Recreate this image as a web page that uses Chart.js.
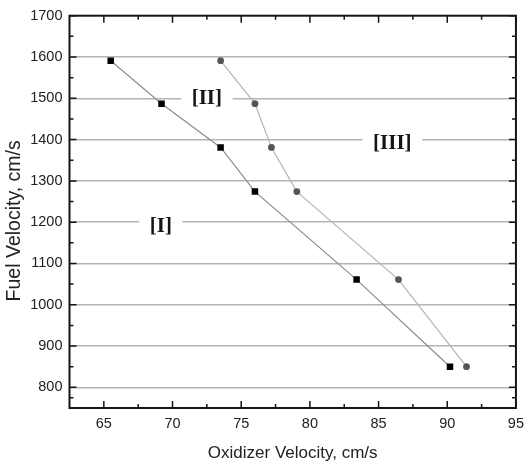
<!DOCTYPE html>
<html>
<head>
<meta charset="utf-8">
<script src="https://cdn.jsdelivr.net/npm/chart.js@4.4.1/dist/chart.umd.min.js"></script>
<style>
  html, body { margin: 0; padding: 0; background: #fff; }
  #wrap { width: 531px; height: 468px; }
</style>
</head>
<body>
<div id="wrap"><canvas id="velocityChart" width="531" height="468"></canvas></div>
<script>
// ===== data =====
const squareOxidizer = [65.5, 69.2, 73.5, 76.0, 83.4, 90.2];
const squareFuel = [1591, 1487, 1381, 1274, 1061, 850];
const circleOxidizer = [73.5, 76.0, 77.2, 79.05, 86.45, 91.4];
const circleFuel = [1591, 1487, 1381, 1274, 1061, 850];

const xTicks = [65, 70, 75, 80, 85, 90, 95];
const yTicks = [800, 900, 1000, 1100, 1200, 1300, 1400, 1500, 1600, 1700];

// region labels, anchored in data units
const regionLabels = ["[I]", "[II]", "[III]"];
const regionX = [69.15, 72.5, 86.0];
const regionY = [1190, 1500, 1390];

const yTitle = "Fuel Velocity, cm/s";

const SANS = "'Liberation Sans', Arial, sans-serif";
const SERIF = "'Liberation Serif', 'Times New Roman', serif";
const INK = "#151515";

const toPoints = (xs, ys) => xs.map((x, i) => ({ x, y: ys[i] }));

// midpoints between major ticks -> minor tick values
function minors(ticks) {
  const out = [];
  for (let i = 0; i < ticks.length - 1; i++) out.push((ticks[i] + ticks[i + 1]) / 2);
  return out;
}

// frame, inward ticks, region labels and the vertical axis title
const framePlugin = {
  id: "framePlugin",
  beforeDatasetsDraw(chart) {
    const { ctx, scales } = chart;
    ctx.save();
    ctx.font = "bold 21px " + SERIF;
    ctx.textAlign = "center";
    ctx.textBaseline = "middle";
    regionLabels.forEach((txt, i) => {
      const px = scales.x.getPixelForValue(regionX[i]);
      const py = scales.y.getPixelForValue(regionY[i]);
      const w = ctx.measureText(txt).width;
      ctx.fillStyle = "#fff";
      ctx.fillRect(px - w / 2 - 10.5, py - 12, w + 21, 24);
      ctx.fillStyle = INK;
      ctx.fillText(txt, px, py);
    });
    ctx.restore();
  },
  afterDatasetsDraw(chart) {
    const { ctx, chartArea: a, scales } = chart;
    const major = 7, minor = 4;
    ctx.save();
    ctx.strokeStyle = INK;
    ctx.lineWidth = 1.5;
    ctx.beginPath();
    const xt = (v, len) => {
      const p = scales.x.getPixelForValue(v);
      ctx.moveTo(p, a.bottom); ctx.lineTo(p, a.bottom - len);
      ctx.moveTo(p, a.top); ctx.lineTo(p, a.top + len);
    };
    const yt = (v, len) => {
      const p = scales.y.getPixelForValue(v);
      ctx.moveTo(a.left, p); ctx.lineTo(a.left + len, p);
      ctx.moveTo(a.right, p); ctx.lineTo(a.right - len, p);
    };
    xTicks.forEach((v) => xt(v, major));
    minors(xTicks).forEach((v) => xt(v, minor));
    yTicks.forEach((v) => yt(v, major));
    minors([750].concat(yTicks)).forEach((v) => yt(v, minor));
    ctx.stroke();
    ctx.lineWidth = 2;
    ctx.strokeRect(a.left, a.top, a.right - a.left, a.bottom - a.top);

    // vertical axis title, sits a little below the plot centre
    ctx.translate(15, (a.top + a.bottom) / 2 + 9);
    ctx.rotate(-Math.PI / 2);
    ctx.font = "19.5px " + SANS;
    ctx.fillStyle = "#222";
    ctx.textAlign = "center";
    ctx.textBaseline = "middle";
    ctx.fillText(yTitle, 0, 0);
    ctx.restore();
  },
};

new Chart(document.getElementById("velocityChart"), {
  type: "scatter",
  data: {
    datasets: [
      {
        data: toPoints(squareOxidizer, squareFuel),
        showLine: true,
        borderColor: "#8c8c8c",
        borderWidth: 1.2,
        pointStyle: "rect",
        pointRadius: 4.6,
        pointBackgroundColor: "#000",
        pointBorderColor: "#000",
        pointBorderWidth: 0,
      },
      {
        data: toPoints(circleOxidizer, circleFuel),
        showLine: true,
        borderColor: "#b5b5b5",
        borderWidth: 1.2,
        pointStyle: "circle",
        pointRadius: 3.4,
        pointBackgroundColor: "#555",
        pointBorderColor: "#555",
        pointBorderWidth: 0,
      },
    ],
  },
  options: {
    responsive: false,
    animation: false,
    devicePixelRatio: 1,
    layout: { padding: { top: 14, right: 9.3, bottom: 0, left: 0 } },
    plugins: { legend: { display: false }, tooltip: { enabled: false } },
    scales: {
      x: {
        type: "linear",
        min: 62.5,
        max: 95,
        afterBuildTicks: (s) => { s.ticks = xTicks.map((v) => ({ value: v })); },
        afterFit: (s) => { s.height = 60; },
        grid: { display: false, drawTicks: false },
        border: { display: false },
        ticks: {
          padding: 7,
          color: "#222",
          font: { family: SANS, size: 14.5 },
          callback: (v) => String(v),
        },
        title: {
          display: true,
          text: "Oxidizer Velocity, cm/s",
          color: "#222",
          font: { family: SANS, size: 17 },
          padding: { top: 0, bottom: 4 },
        },
      },
      y: {
        type: "linear",
        min: 750,
        max: 1700,
        afterBuildTicks: (s) => { s.ticks = yTicks.map((v) => ({ value: v })); },
        afterFit: (s) => { s.width = 69.5; },
        grid: {
          drawTicks: false,
          lineWidth: 1.5,
          color: (c) => (c.tick && c.tick.value === 1700 ? "rgba(0,0,0,0)" : "#b4b4b4"),
        },
        border: { display: false },
        ticks: {
          padding: 7,
          color: "#222",
          font: { family: SANS, size: 14.5 },
          callback: (v) => String(v),
        },
      },
    },
  },
  plugins: [framePlugin],
});
</script>
</body>
</html>
